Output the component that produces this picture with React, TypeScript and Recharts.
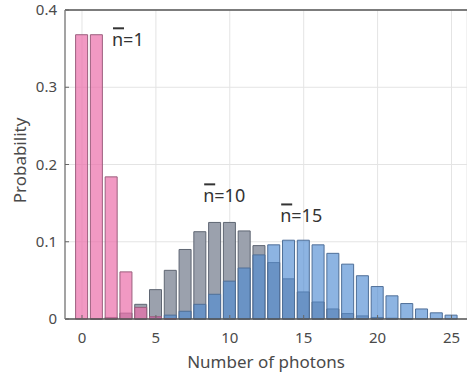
import React from "react"
import {
  BarChart,
  Bar,
  XAxis,
  YAxis,
  CartesianGrid,
  ReferenceLine,
  ReferenceDot,
} from "recharts"

// photon counts 0..25
const photons = [
  0, 1, 2, 3, 4, 5, 6, 7, 8, 9, 10, 11, 12, 13, 14, 15, 16, 17, 18, 19, 20, 21, 22, 23, 24, 25,
]

// probabilities
const meanOne = [
  0.368, 0.368, 0.184, 0.061, 0.015, 0.003, 0.0005, 0, 0, 0, 0, 0, 0, 0, 0, 0, 0, 0, 0, 0, 0, 0, 0, 0, 0, 0,
]
const meanTen = [
  0, 0.0005, 0.002, 0.0076, 0.019, 0.038, 0.063, 0.09, 0.113, 0.125, 0.125, 0.114, 0.095, 0.073,
  0.052, 0.035, 0.022, 0.013, 0.007, 0.004, 0.002, 0.001, 0.0005, 0, 0, 0,
]
const meanFifteen = [
  0, 0, 0, 0, 0.0006, 0.002, 0.005, 0.01, 0.019, 0.032, 0.049, 0.066, 0.083, 0.096, 0.102, 0.102,
  0.096, 0.085, 0.071, 0.056, 0.042, 0.03, 0.02, 0.013, 0.008, 0.005,
]

const xTicks = [0, 5, 10, 15, 20, 25]
const yTicks = [0, 0.1, 0.2, 0.3, 0.4]

const data = photons.map((n, i) => ({
  n,
  p1: meanOne[i],
  p10: meanTen[i],
  p15: meanFifteen[i],
}))

const FONT = "'Noto Sans', sans-serif"
const TEXT = "#4a4a4a"

function MeanLabel({ viewBox, value }: any) {
  const x = viewBox.x + viewBox.width / 2
  const y = viewBox.y + viewBox.height / 2
  return (
    <g>
      <rect x={x + 1} y={y - 19} width={11} height={2} fill="#333" />
      <text x={x} y={y} fontSize={18} fontFamily={FONT} fill="#333">
        {"n=" + value}
      </text>
    </g>
  )
}

function YTick({ x, y, payload }: any) {
  const v = payload.value
  return (
    <g>
      <line x1={x + 8} x2={x + 12} y1={y} y2={y} stroke="#666" />
      <text x={x} y={y} dy={5} textAnchor="end" fontSize={15} fontFamily={FONT} fill={TEXT}>
        {v === 0 ? "0" : v.toFixed(1)}
      </text>
    </g>
  )
}

function XTick({ x, y, payload }: any) {
  return (
    <g>
      <line x1={x} x2={x} y1={y - 10} y2={y - 14} stroke="#666" />
      <text x={x} y={y} dy={14} textAnchor="middle" fontSize={15} fontFamily={FONT} fill={TEXT}>
        {payload.value}
      </text>
    </g>
  )
}

export default function App() {
  return (
    <div style={{ position: "absolute", left: 0, top: 0, background: "#fff" }}>
      <BarChart
        width={467}
        height={376}
        data={data}
        margin={{ top: 10, right: 0, bottom: 0, left: 0 }}
      >
        <CartesianGrid xAxisId="a" stroke="#e4e4e4" />
        <XAxis
          xAxisId="a"
          dataKey="n"
          type="number"
          domain={[-1.15, 26.05]}
          ticks={xTicks}
          interval={0}
          height={57}
          tickLine={false}
          tickSize={0}
          tickMargin={10}
          axisLine={{ stroke: "#555", strokeWidth: 1.5 }}
          tick={<XTick />}
          allowDataOverflow
          label={{
            value: "Number of photons",
            position: "insideBottom",
            offset: 8,
            fontSize: 17,
            fontFamily: FONT,
            fill: TEXT,
          }}
        />
        <XAxis xAxisId="b" dataKey="n" type="number" domain={[-1.15, 26.05]} hide allowDataOverflow />
        <XAxis xAxisId="c" dataKey="n" type="number" domain={[-1.15, 26.05]} hide allowDataOverflow />
        <YAxis
          domain={[0, 0.4]}
          ticks={yTicks}
          width={65}
          tickLine={false}
          tickSize={0}
          tickMargin={8}
          axisLine={{ stroke: "#888", strokeWidth: 1.5 }}
          tick={<YTick />}
          label={{
            content: ({ viewBox }: any) => (
              <text
                x={19}
                y={viewBox.y + viewBox.height / 2 - 4}
                transform={`rotate(-90 19 ${viewBox.y + viewBox.height / 2 - 4})`}
                textAnchor="middle"
                dominantBaseline="central"
                fontSize={17}
                fontFamily={FONT}
                fill={TEXT}
              >
                Probability
              </text>
            ),
          }}
        />
        <ReferenceLine xAxisId="a" y={0.4} stroke="#555" strokeWidth={1.5} />
        <Bar
          xAxisId="a"
          dataKey="p10"
          barSize={12}
          fill="#9ba1ad"
          stroke="#5f6673"
          strokeWidth={1}
          isAnimationActive={false}
        />
        <Bar
          xAxisId="b"
          dataKey="p15"
          barSize={12}
          fill="rgb(80,140,210)"
          fillOpacity={0.65}
          stroke="#4f6f98"
          strokeWidth={1}
          isAnimationActive={false}
        />
        <Bar
          xAxisId="c"
          dataKey="p1"
          barSize={12}
          fill="rgb(235,110,170)"
          fillOpacity={0.7}
          stroke="#9c5f7e"
          strokeWidth={1}
          isAnimationActive={false}
        />
        <ReferenceDot
          xAxisId="a"
          x={2.03}
          y={0.353}
          r={1}
          fill="none"
          stroke="none"
          ifOverflow="visible"
          label={<MeanLabel value="1" />}
        />
        <ReferenceDot
          xAxisId="a"
          x={8.2}
          y={0.151}
          r={1}
          fill="none"
          stroke="none"
          ifOverflow="visible"
          label={<MeanLabel value="10" />}
        />
        <ReferenceDot
          xAxisId="a"
          x={13.41}
          y={0.125}
          r={1}
          fill="none"
          stroke="none"
          ifOverflow="visible"
          label={<MeanLabel value="15" />}
        />
      </BarChart>
    </div>
  )
}
